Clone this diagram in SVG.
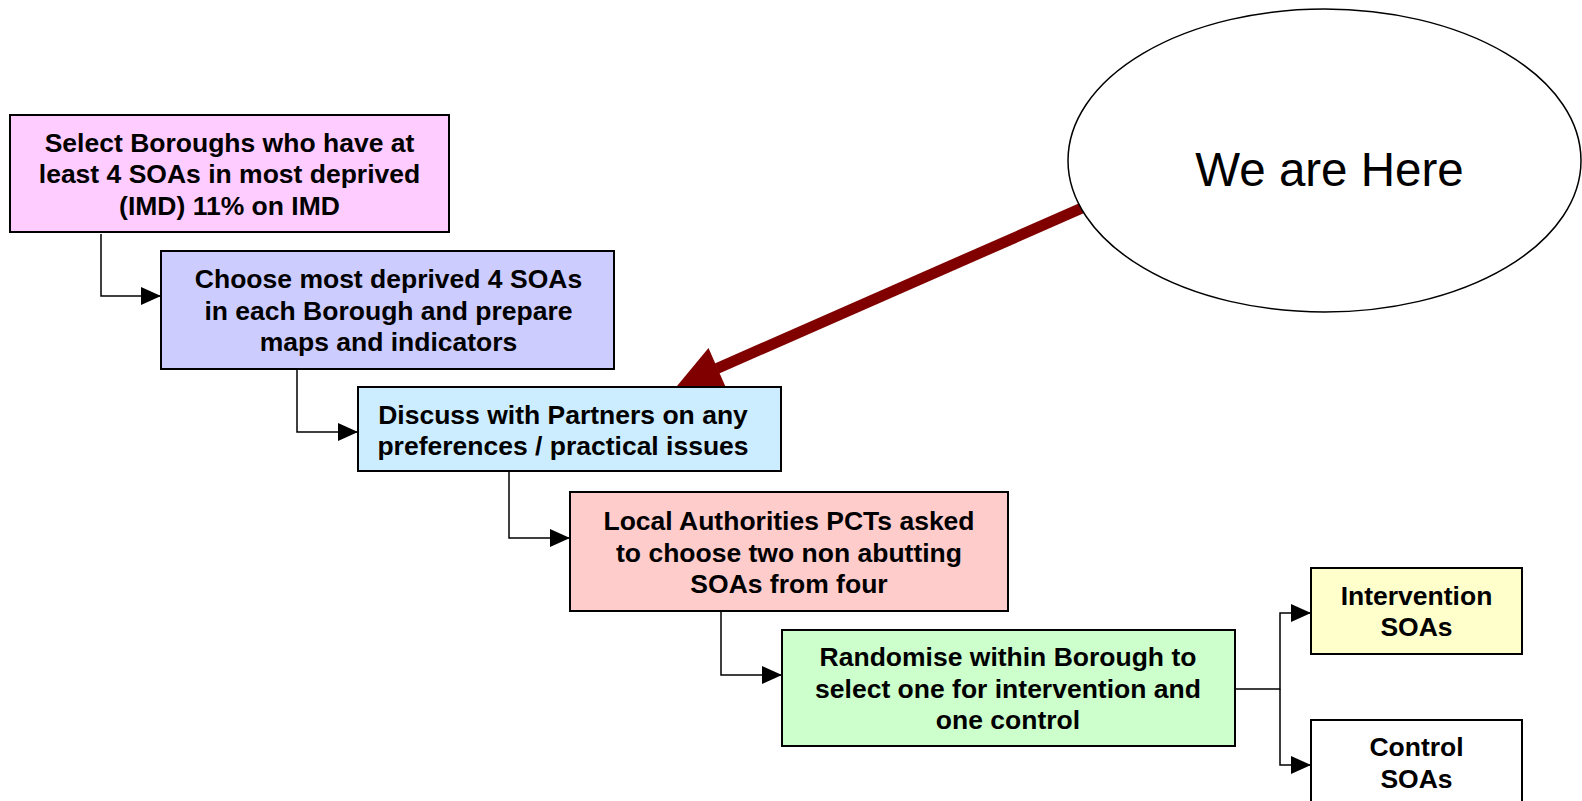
<svg xmlns="http://www.w3.org/2000/svg" width="1582" height="801" viewBox="0 0 1582 801">
<defs>
<style>
.box{stroke:#000;stroke-width:2}
.t{font-family:"Liberation Sans",Arial,sans-serif;font-weight:bold;font-size:26.5px;fill:#000;text-anchor:middle}
.big{font-family:"Liberation Sans",Arial,sans-serif;font-size:47.5px;fill:#000;text-anchor:middle}
.c{fill:none;stroke:#000;stroke-width:1.5}
</style>
<marker id="ah" viewBox="0 0 20 18" refX="20" refY="9" markerWidth="20" markerHeight="18" markerUnits="userSpaceOnUse" orient="auto">
<path d="M0,0 L20,9 L0,18 Z" fill="#000"/>
</marker>
</defs>
<rect width="1582" height="801" fill="#fff"/>
<g id="connectors">
<path class="c" d="M101,234 V296 H161" marker-end="url(#ah)"/>
<path class="c" d="M297,369 V432 H358" marker-end="url(#ah)"/>
<path class="c" d="M509,471 V538 H570" marker-end="url(#ah)"/>
<path class="c" d="M721,611 V675 H782" marker-end="url(#ah)"/>
<path class="c" d="M1235,689 H1280 V613 H1311" marker-end="url(#ah)"/>
<path class="c" d="M1280,689 V765 H1311" marker-end="url(#ah)"/>
<g id="here-arrow">
<line x1="1082" y1="208" x2="717" y2="368.5" stroke="#800000" stroke-width="11"/>
<polygon points="677,386 708.5,347.9 726.5,389.1" fill="#800000"/>
</g>
</g>
<g id="ellipse-here">
<ellipse cx="1324.5" cy="160.5" rx="256.5" ry="151.5" fill="#fff" stroke="#000" stroke-width="1.5"/>
<text class="big" x="1329.5" y="186">We are Here</text>
</g>
<g id="box1">
<rect class="box" x="10" y="115" width="439" height="117" fill="#FFCCFF"/>
<text class="t" x="229.5" y="151.5">Select Boroughs who have at</text>
<text class="t" x="229.5" y="183">least 4 SOAs in most deprived</text>
<text class="t" x="229.5" y="214.5">(IMD) 11% on IMD</text>
</g>
<g id="box2">
<rect class="box" x="161" y="251" width="453" height="118" fill="#CCCCFF"/>
<text class="t" x="388.5" y="288">Choose most deprived 4 SOAs</text>
<text class="t" x="388.5" y="319.5">in each Borough and prepare</text>
<text class="t" x="388.5" y="351">maps and indicators</text>
</g>
<g id="box3">
<rect class="box" x="358" y="387" width="423" height="84" fill="#CCECFF"/>
<text class="t" x="563" y="423.5">Discuss with Partners on any</text>
<text class="t" x="563" y="455">preferences / practical issues</text>
</g>
<g id="box4">
<rect class="box" x="570" y="492" width="438" height="119" fill="#FFCCCC"/>
<text class="t" x="789" y="530">Local Authorities PCTs asked</text>
<text class="t" x="789" y="561.5">to choose two non abutting</text>
<text class="t" x="789" y="593">SOAs from four</text>
</g>
<g id="box5">
<rect class="box" x="782" y="630" width="453" height="116" fill="#CCFFCC"/>
<text class="t" x="1008" y="666">Randomise within Borough to</text>
<text class="t" x="1008" y="697.5">select one for intervention and</text>
<text class="t" x="1008" y="729">one control</text>
</g>
<g id="box6">
<rect class="box" x="1311" y="568" width="211" height="86" fill="#FFFFCC"/>
<text class="t" x="1416.5" y="604.5">Intervention</text>
<text class="t" x="1416.5" y="636">SOAs</text>
</g>
<g id="box7">
<rect class="box" x="1311" y="720" width="211" height="90" fill="#fff"/>
<text class="t" x="1416.5" y="756">Control</text>
<text class="t" x="1416.5" y="787.5">SOAs</text>
</g>
</svg>
